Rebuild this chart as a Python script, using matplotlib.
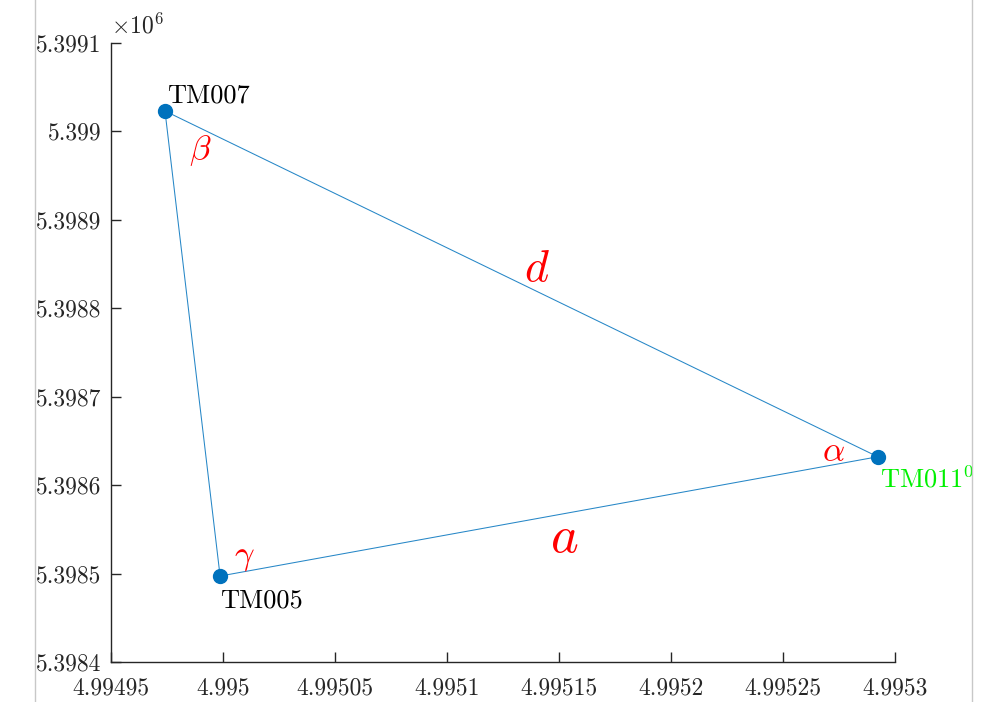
import matplotlib
matplotlib.use("Agg")
import matplotlib.pyplot as plt
from matplotlib.lines import Line2D
from matplotlib.ticker import FuncFormatter

plt.rcParams['font.family'] = 'serif'
plt.rcParams['font.serif'] = ['cmr10']
plt.rcParams['mathtext.fontset'] = 'cm'
plt.rcParams['axes.unicode_minus'] = False

# survey points (UTM easting / northing, metres)
names = ['TM005', 'TM007', 'TM011']
easting = [499499.87, 499497.41, 499529.23]
northing = [5398497.2, 5399023.1, 5398632.1]

xticks = [499495, 499500, 499505, 499510, 499515, 499520, 499525, 499530]
yticks = [5398400, 5398500, 5398600, 5398700, 5398800, 5398900, 5399000, 5399100]

blue = '#0072BD'
axcol = '#262626'

fig = plt.figure(figsize=(9.89, 7.02), dpi=100)
ax = fig.add_axes([111/989, 1 - 662/702, (895 - 111)/989, (662 - 43)/702])

# closed triangle: TM005 -> TM007 -> TM011 -> TM005
xs = [easting[0], easting[1], easting[2], easting[0]]
ys = [northing[0], northing[1], northing[2], northing[0]]
ax.plot(xs, ys, '-', color=blue, lw=0.75, alpha=0.85)
ax.plot(easting, northing, 'o', color=blue, ms=10, zorder=3)

ax.set_xlim(xticks[0], xticks[-1])
ax.set_ylim(yticks[0], yticks[-1])
ax.set_xticks(xticks)
ax.set_yticks(yticks)
ax.xaxis.set_major_formatter(FuncFormatter(lambda v, p: '%g' % (v / 1e5)))
ax.yaxis.set_major_formatter(FuncFormatter(lambda v, p: '%g' % round(v / 1e6, 5)))
ax.tick_params(direction='in', length=7, width=1, colors=axcol, labelsize=17)
ax.tick_params(axis='x', pad=11)
ax.tick_params(axis='y', pad=7)
for s in ['top', 'right']:
    ax.spines[s].set_visible(False)
for s in ['left', 'bottom']:
    ax.spines[s].set_color(axcol)
    ax.spines[s].set_linewidth(1)
ax.text(0.0, 1.008, r'$\times 10^6$', transform=ax.transAxes, fontsize=17,
        ha='left', va='bottom', color=axcol)

# point names
ax.annotate('TM005', (easting[0], northing[0]), xytext=(0, -13), textcoords='offset pixels',
            ha='left', va='top', fontsize=19, color='black')
ax.annotate('TM007', (easting[1], northing[1]), xytext=(2, 4), textcoords='offset pixels',
            ha='left', va='bottom', fontsize=19, color='black')
ax.annotate(r'TM011$^0$', (easting[2], northing[2]), xytext=(2, -9), textcoords='offset pixels',
            ha='left', va='top', fontsize=19, color='#00F000')

# angle labels
ax.annotate(r'$\beta$', (easting[1], northing[1]), xytext=(35, -40), textcoords='offset pixels',
            ha='center', va='center', fontsize=25, color='red')
ax.annotate(r'$\gamma$', (easting[0], northing[0]), xytext=(24, 19), textcoords='offset pixels',
            ha='center', va='center', fontsize=25, color='red')
ax.annotate(r'$\alpha$', (easting[2], northing[2]), xytext=(-44, 5), textcoords='offset pixels',
            ha='center', va='center', fontsize=25, color='red')

# side labels at midpoints
mx_d = (easting[1] + easting[2]) / 2
my_d = (northing[1] + northing[2]) / 2
ax.annotate(r'$d$', (mx_d, my_d), xytext=(16, 15), textcoords='offset pixels',
            ha='center', va='center', fontsize=33, color='red')
mx_a = (easting[0] + easting[2]) / 2
my_a = (northing[0] + northing[2]) / 2
ax.annotate(r'$a$', (mx_a, my_a), xytext=(15, -22), textcoords='offset pixels',
            ha='center', va='center', fontsize=38, color='red')

# window edges of the screenshot
for xp in [35, 972]:
    fig.add_artist(Line2D([xp/989, xp/989], [0, 1], transform=fig.transFigure,
                          color='#c8c8c8', lw=1))

fig.savefig('out.png', dpi=100)
